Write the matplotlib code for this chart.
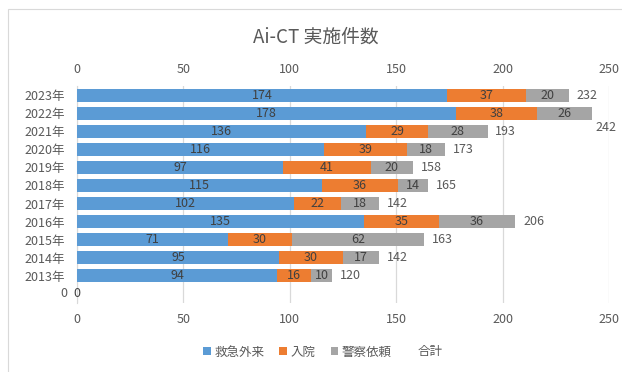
import matplotlib
matplotlib.use("Agg")
import matplotlib.pyplot as plt
from matplotlib.patches import Patch, Rectangle

plt.rcParams['font.family'] = ['Noto Sans CJK JP', 'DejaVu Sans']

years = ["", "2013年", "2014年", "2015年", "2016年", "2017年", "2018年",
         "2019年", "2020年", "2021年", "2022年", "2023年"]
er = [0, 94, 95, 71, 135, 102, 115, 97, 116, 136, 178, 174]
inpatient = [0, 16, 30, 30, 35, 22, 36, 41, 39, 29, 38, 37]
police = [0, 10, 17, 62, 36, 18, 14, 20, 18, 28, 26, 20]
total = [0, 120, 142, 163, 206, 142, 165, 158, 173, 193, 242, 232]
series_names = ["救急外来", "入院", "警察依頼", "合計"]
xticks = [0, 50, 100, 150, 200, 250]

c_er, c_in, c_po = "#5B9BD5", "#ED7D31", "#A5A5A5"
txt = "#595959"
lab = "#404040"

fig = plt.figure(figsize=(6.22, 3.72), dpi=100)
fig.patches.append(Rectangle((8/622, -0.1), 1.0, 1.1 - 9/372,
                             transform=fig.transFigure, fill=False,
                             edgecolor="#D9D9D9", linewidth=0.8))
ax = fig.add_axes([77/622, 1-303/372, 532/622, 217/372])

ypos = list(range(len(years)))
h = 0.72
left2 = [a for a in er]
left3 = [a + b for a, b in zip(er, inpatient)]
ax.barh(ypos, er, height=h, color=c_er, zorder=3)
ax.barh(ypos, inpatient, left=left2, height=h, color=c_in, zorder=3)
ax.barh(ypos, police, left=left3, height=h, color=c_po, zorder=3)

for i in ypos:
    if i == 0:
        continue
    ax.text(er[i]/2, i, str(er[i]), ha="center", va="center", fontsize=9, color=lab, zorder=4)
    ax.text(left2[i] + inpatient[i]/2, i, str(inpatient[i]), ha="center", va="center", fontsize=9, color=lab, zorder=4)
    ax.text(left3[i] + police[i]/2, i, str(police[i]), ha="center", va="center", fontsize=9, color=lab, zorder=4)
    end = left3[i] + police[i]
    if years[i] == "2022年":
        ax.text(248.5, i - 0.78, str(total[i]), ha="center", va="center", fontsize=9, color=txt, zorder=4, clip_on=False)
    else:
        ax.annotate(str(total[i]), (end, i), xytext=(5.5, 0), textcoords="offset points",
                    ha="left", va="center", fontsize=9, color=txt, zorder=4)

# zero labels for empty category
ax.text(0, 0, "0", ha="center", va="center", fontsize=9, color=lab, zorder=4, clip_on=False)
ax.text(-6.3, 0, "0", ha="center", va="center", fontsize=9, color=txt, zorder=4, clip_on=False)

ax.set_xlim(0, 250)
ax.set_ylim(-0.5, len(years) - 0.5)
ax.set_xticks(xticks)
ax.set_yticks(ypos)
ax.set_yticklabels(years)
ax.grid(axis="x", color="#D9D9D9", linewidth=0.9, zorder=0)
for s in ["top", "right", "bottom"]:
    ax.spines[s].set_visible(False)
ax.spines["left"].set_color("#D9D9D9")
ax.tick_params(axis="x", length=0, pad=7, labelsize=9, labelcolor=txt,
               top=True, labeltop=True, bottom=True, labelbottom=True)
ax.tick_params(axis="y", length=0, pad=9, labelsize=9, labelcolor=txt)

fig.text(0.508, 1-37/372, "Ai-CT 実施件数", ha="center", va="center", fontsize=13.5, color=txt)

handles = [Patch(facecolor=c_er), Patch(facecolor=c_in), Patch(facecolor=c_po),
           Patch(facecolor="none", edgecolor="none")]
leg = fig.legend(handles, series_names, loc="center", bbox_to_anchor=(323/622, 1-352/372),
                 ncol=4, frameon=False, fontsize=9, handlelength=0.6, handleheight=0.6,
                 handletextpad=0.3, columnspacing=1.2, labelcolor=txt)

fig.savefig("out.png", dpi=100)
